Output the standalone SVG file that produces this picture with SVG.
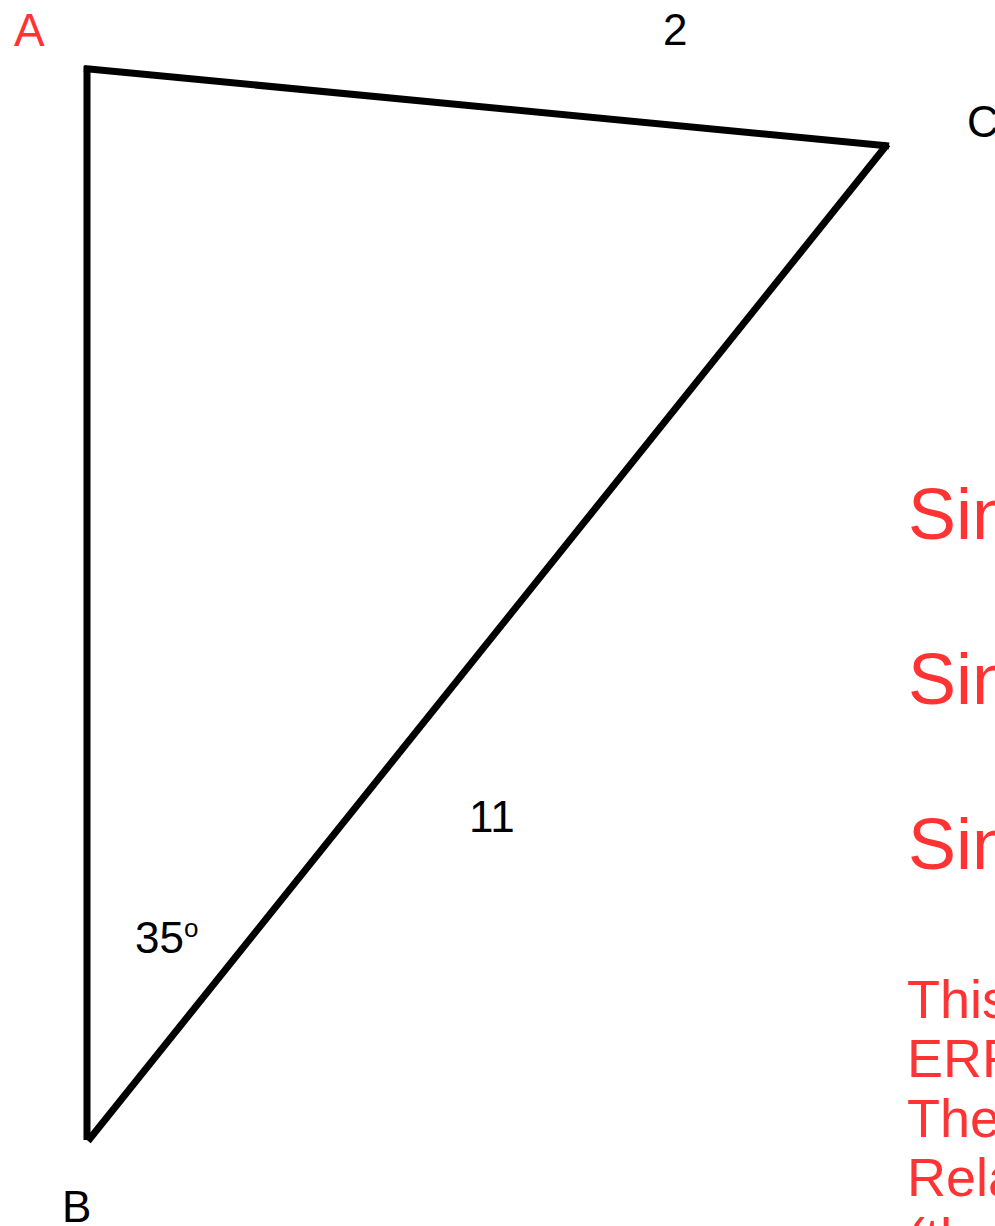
<svg xmlns="http://www.w3.org/2000/svg" width="995" height="1226" viewBox="0 0 995 1226">
<style>
.lbl{font-family:"Liberation Sans",Arial,sans-serif;fill:#000;font-size:44px}
.red{font-family:"Liberation Sans",Arial,sans-serif;fill:#ff3333}
.edge{stroke:#000;stroke-width:7;fill:none;stroke-linecap:butt}
</style>
<rect width="995" height="1226" fill="#fff"/>
<g id="connectors">
<line class="edge" x1="87" y1="66" x2="87" y2="1140"/>
<line class="edge" x1="84" y1="68.5" x2="889" y2="146"/>
<line class="edge" x1="887.5" y1="144" x2="88" y2="1141"/>
</g>
<g id="vertex-A"><text class="red" x="14" y="46" font-size="46">A</text></g>
<g id="vertex-B"><text class="lbl" x="62" y="1222">B</text></g>
<g id="vertex-C"><text class="lbl" x="967" y="137">C</text></g>
<g id="label-2"><text class="lbl" x="663" y="45">2</text></g>
<g id="label-11"><text class="lbl" x="469" y="832">11</text></g>
<g id="label-35"><text class="lbl" x="135" y="953">35<tspan font-size="26" dy="-16">o</tspan></text></g>
<g id="sin-text" class="red" font-size="72">
<text class="red" x="908" y="539" font-size="72">Sin</text>
<text class="red" x="908" y="704" font-size="72">Sin</text>
<text class="red" x="908" y="869" font-size="72">Sin</text>
</g>
<g id="note-text">
<text class="red" x="907" y="1018" font-size="54">This</text>
<text class="red" x="907" y="1077" font-size="54">ERR</text>
<text class="red" x="907" y="1137" font-size="54">The</text>
<text class="red" x="907" y="1196" font-size="54">Rela</text>
<text class="red" x="907" y="1256" font-size="54">(th</text>
</g>
</svg>
